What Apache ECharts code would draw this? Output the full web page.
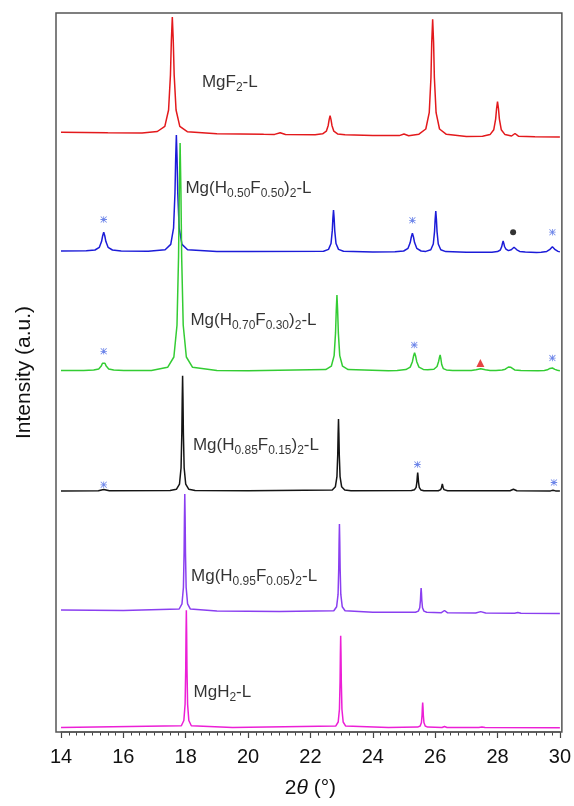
<!DOCTYPE html>
<html>
<head>
<meta charset="utf-8">
<script src="https://cdn.jsdelivr.net/npm/echarts@6/dist/echarts.min.js"></script>
<style>
  html, body { margin: 0; padding: 0; background: #fff; }
  #chart { width: 574px; height: 806px; }
</style>
</head>
<body>
<div id="chart"></div>
<script>
// 2θ axis
const xMin = 14;
const xMax = 30;
const xStep = 2;

// Sample names (rich-text markup for subscripts), top to bottom
const sampleLabels = [
  '{m|MgF}{s|2}{m|-L}',
  '{m|Mg(H}{s|0.50}{m|F}{s|0.50}{m|)}{s|2}{m|-L}',
  '{m|Mg(H}{s|0.70}{m|F}{s|0.30}{m|)}{s|2}{m|-L}',
  '{m|Mg(H}{s|0.85}{m|F}{s|0.15}{m|)}{s|2}{m|-L}',
  '{m|Mg(H}{s|0.95}{m|F}{s|0.05}{m|)}{s|2}{m|-L}',
  '{m|MgH}{s|2}{m|-L}'
];
const sampleNames = ['MgF2-L', 'Mg(H0.50F0.50)2-L', 'Mg(H0.70F0.30)2-L',
                     'Mg(H0.85F0.15)2-L', 'Mg(H0.95F0.05)2-L', 'MgH2-L'];

// Vertical stacking offset of each pattern (a.u.)
const offsets = [595, 479, 361, 241, 118, 4];

// Diffraction patterns: [2θ (°), intensity (a.u.)]
const patternMgF2 = [
  [14,4.8],[15.5,4.3],[16.6,4.0],[17.09,5.5],[17.33,10.7],[17.45,27.0],[17.51,61.9],[17.54,96.7],[17.57,120],
  [17.60,96.7],[17.63,61.9],[17.69,27.0],[17.81,10.6],[18.05,5.3],[19.0,3.2],[20.5,2.7],[20.85,2.6],[21.03,4.2],
  [21.2,2.5],[22.15,2.3],[22.39,3.2],[22.51,5.8],[22.57,11.6],[22.60,17.4],[22.63,21.2],[22.66,17.4],[22.69,11.6],
  [22.75,5.8],[22.87,3.1],[23.11,2.2],[24.0,1.6],[24.85,1.4],[25.0,3.0],[25.15,1.3],[25.48,2.8],[25.70,8.0],
  [25.81,24.3],[25.865,59.3],[25.89,94.3],[25.92,117.6],[25.95,94.3],[25.975,59.3],[26.03,24.3],[26.14,8.0],
  [26.36,2.7],[27.0,0.6],[27.52,0.8],[27.76,2.4],[27.88,7.3],[27.94,17.9],[27.97,28.5],[28.0,35.5],[28.03,28.5],
  [28.06,17.9],[28.12,7.3],[28.24,2.4],[28.45,1.0],[28.56,3.5],[28.67,0.8],[29.2,0.3],[30,0]
];
const patternH050 = [
  [14,2.0],[14.81,2.2],[15.09,3.0],[15.23,5.7],[15.30,11.4],[15.335,17.0],[15.37,20.8],[15.405,17.0],[15.44,11.4],
  [15.51,5.7],[15.65,3.0],[15.93,2.1],[16.8,1.8],[17.34,3.3],[17.52,8.6],[17.61,24.9],[17.655,59.8],[17.678,94.6],
  [17.70,117.9],[17.722,94.6],[17.745,59.8],[17.79,24.9],[17.88,8.6],[18.06,3.3],[19.0,1.6],[20.0,1.4],[22.42,1.7],
  [22.58,3.6],[22.66,9.5],[22.70,22.1],[22.72,34.6],[22.74,43.0],[22.76,34.6],[22.78,22.1],[22.82,9.5],[22.90,3.6],
  [23.06,1.7],[24.0,1.0],[24.71,1.2],[24.99,2.0],[25.13,4.7],[25.20,10.4],[25.235,16.0],[25.27,19.8],[25.305,16.0],
  [25.34,10.4],[25.41,4.7],[25.55,2.0],[25.70,1.6],[25.86,3.3],[25.94,9.0],[25.98,21.4],[26.00,33.7],[26.02,41.9],
  [26.04,33.7],[26.06,21.4],[26.10,9.0],[26.18,3.3],[26.34,1.4],[27.0,0.7],[27.82,0.8],[28.0,1.4],[28.09,3.0],
  [28.135,6.4],[28.16,9.9],[28.18,12.0],[28.20,9.9],[28.225,6.5],[28.27,3.9],[28.35,2.4],[28.44,3.3],[28.485,4.8],
  [28.53,5.8],[28.575,4.8],[28.62,3.2],[28.71,1.6],[28.89,0.9],[29.25,0.6],[29.40,0.8],[29.58,1.6],[29.67,3.3],
  [29.715,5.0],[29.76,6.2],[29.805,5.0],[29.85,3.3],[29.94,1.6],[30,1.1]
];
const patternH070 = [
  [14,0.5],[14.73,0.5],[15.05,0.9],[15.21,2.1],[15.29,4.9],[15.33,7.7],[15.37,9.5],[15.41,7.7],[15.45,4.9],
  [15.53,2.1],[15.69,0.9],[16.01,0.5],[16.9,0.5],[17.42,3.7],[17.62,14.0],[17.72,45.8],[17.77,114.2],[17.795,182.5],
  [17.82,228],[17.845,182.5],[17.87,114.2],[17.92,45.8],[18.02,14.0],[18.22,3.7],[19.0,0.6],[20.0,0.3],[22.49,1.4],
  [22.67,4.8],[22.76,15.4],[22.805,38.1],[22.828,60.8],[22.85,75.9],[22.872,60.8],[22.895,38.1],[22.94,15.4],
  [23.03,4.8],[23.21,1.4],[24.5,0.3],[24.78,0.6],[25.06,1.4],[25.20,3.9],[25.27,9.3],[25.305,14.7],[25.34,18.3],
  [25.375,14.7],[25.41,9.3],[25.48,3.9],[25.62,1.6],[25.76,1.2],[25.96,1.8],[26.06,4.5],[26.11,9.5],[26.135,13.2],
  [26.16,16.0],[26.185,12.0],[26.21,6.5],[26.26,2.4],[26.36,1.1],[26.56,0.5],[27.0,0.4],[27.16,0.6],[27.31,1.3],
  [27.46,2.3],[27.61,1.3],[27.76,0.6],[27.95,0.5],[28.15,1.0],[28.25,1.8],[28.31,2.7],[28.35,4.0],[28.39,5.0],
  [28.43,3.7],[28.47,2.4],[28.55,1.1],[28.75,0.5],[29.3,0.3],[29.5,0.6],[29.6,1.2],[29.68,2.6],[29.72,3.7],
  [29.76,3.0],[29.84,1.6],[29.92,0.8],[30,0.3]
];
const patternH085 = [
  [14,0],[15.2,0.2],[15.37,1.6],[15.55,0.2],[17.5,0.4],[17.70,1.7],[17.80,6.9],[17.85,23.0],[17.875,57.6],
  [17.888,92.2],[17.90,115.2],[17.912,92.2],[17.925,57.6],[17.95,23.0],[18.0,6.9],[18.10,1.7],[18.3,0.4],[20.0,0.2],
  [22.70,1.1],[22.80,4.3],[22.85,14.4],[22.875,36.0],[22.888,57.6],[22.90,72.0],[22.912,57.6],[22.925,36.0],
  [22.95,14.4],[23.0,4.3],[23.10,1.1],[23.3,0.3],[25.24,0.5],[25.34,1.3],[25.39,3.7],[25.415,9.2],[25.428,14.6],
  [25.44,18.3],[25.452,14.6],[25.465,9.2],[25.49,3.7],[25.54,1.1],[25.64,0.3],[26.10,0.3],[26.18,1.4],[26.205,3.5],
  [26.23,7.0],[26.255,3.5],[26.28,1.4],[26.4,0.3],[28.4,0.2],[28.51,1.7],[28.62,0.2],[29.7,0.1],[29.78,0.8],
  [29.86,0.1],[30,0]
];
const patternH095 = [
  [14,4.1],[16.0,3.6],[17.79,5.0],[17.88,10.2],[17.926,26.5],[17.948,61.6],[17.959,96.6],[17.97,119.9],[17.981,96.6],
  [17.992,61.6],[18.014,26.5],[18.06,10.2],[18.15,4.9],[19.0,3.0],[21.0,2.5],[22.75,3.3],[22.84,7.3],[22.886,19.6],
  [22.908,46.0],[22.919,72.3],[22.93,89.9],[22.941,72.3],[22.952,46.0],[22.974,19.6],[23.02,7.3],[23.11,3.3],
  [24.0,1.8],[25.37,1.8],[25.46,2.9],[25.506,6.3],[25.528,13.7],[25.539,21.0],[25.55,25.9],[25.561,21.0],
  [25.572,13.7],[25.594,6.3],[25.64,2.9],[25.73,1.8],[26.2,1.3],[26.3,3.5],[26.4,1.2],[27.3,1.0],[27.46,2.4],
  [27.62,1.0],[28.55,0.7],[28.65,1.5],[28.75,0.7],[30,0.4]
];
const patternMgH2 = [
  [14,0.5],[17.86,2.3],[17.94,7.5],[17.98,23.9],[18.00,59.1],[18.01,94.3],[18.02,117.7],[18.03,94.3],[18.04,59.1],
  [18.06,23.9],[18.10,7.5],[18.18,2.3],[19.5,0.5],[22.81,1.9],[22.89,6.0],[22.93,18.8],[22.95,46.4],[22.96,73.9],
  [22.97,92.2],[22.98,73.9],[22.99,46.4],[23.01,18.8],[23.05,6.0],[23.13,1.9],[24.5,0.5],[25.44,0.9],[25.52,2.0],
  [25.56,5.5],[25.58,13.0],[25.59,20.5],[25.60,25.5],[25.61,20.5],[25.62,13.0],[25.64,5.5],[25.68,2.0],[25.76,0.9],
  [26.22,0.5],[26.3,1.5],[26.38,0.5],[27.4,0.4],[27.5,1.0],[27.6,0.4],[30,0.3]
];
const patterns = [patternMgF2, patternH050, patternH070, patternH085, patternH095, patternMgH2];

// Phase markers, [2θ, stacked intensity]
const starMarks = [
  [15.37,512.5],[25.27,511.7],[29.76,499.8],
  [15.37,380.7],[25.33,387],[29.76,373.9],
  [15.37,247.2],[25.43,267.5],[29.81,249.5]
];
const dotMarks = [[28.50,499.8]];
const triangleMarks = [[27.45,369.1]];

// Where each sample name sits, [2θ, stacked intensity] of the text's top-left
const labelAnchors = [[18.52,658],[17.99,552],[18.15,420],[18.23,295],[18.17,164],[18.25,48]];

const colors = ['#e3191c', '#1c1cd8', '#33cc33', '#141414', '#8a3ff0', '#ec1fd6'];
const FONT = '"Liberation Sans", Arial, Helvetica, sans-serif';
const yTop = 719;

const chart = echarts.init(document.getElementById('chart'), null, { renderer: 'canvas' });

const lineSeries = patterns.map((pts, i) => ({
  type: 'line',
  name: sampleNames[i],
  data: pts.map(p => [p[0], p[1] + offsets[i]]),
  showSymbol: false,
  smooth: false,
  lineStyle: { color: colors[i], width: 1.5 },
  z: 3,
  animation: false,
  silent: true
}));

const starPath = 'path://M4.4,0H5.6V10H4.4Z M0,4.4H10V5.6H0Z M0,0.85L0.85,0L10,9.15L9.15,10Z M9.15,0L10,0.85L0.85,10L0,9.15Z';

const option = {
  animation: false,
  backgroundColor: '#ffffff',
  textStyle: { fontFamily: FONT },
  grid: { left: 61, right: 12, top: 13, bottom: 74, containLabel: false },
  xAxis: {
    type: 'value',
    min: xMin, max: xMax, interval: xStep,
    name: '2{i|θ} (°)',
    nameLocation: 'middle',
    nameGap: 46,
    nameTextStyle: {
      fontSize: 21, color: '#111', fontFamily: FONT,
      rich: { i: { fontSize: 21, fontStyle: 'italic', color: '#111', fontFamily: FONT } }
    },
    axisLine: { show: true, onZero: false, lineStyle: { color: '#555', width: 1.5 } },
    axisTick: { show: true, inside: false, length: 6, lineStyle: { color: '#444', width: 1.2 } },
    minorTick: { show: true, splitNumber: 8, length: 3.5, lineStyle: { color: '#444', width: 1 } },
    axisLabel: { fontSize: 20, color: '#111', margin: 15, fontFamily: FONT },
    splitLine: { show: false }
  },
  yAxis: {
    type: 'value',
    min: 0, max: yTop,
    name: 'Intensity (a.u.)',
    nameLocation: 'middle',
    nameRotate: 90,
    nameGap: 26,
    nameTextStyle: { fontSize: 21, color: '#111', fontFamily: FONT },
    axisLine: { show: false },
    axisTick: { show: false },
    axisLabel: { show: false },
    splitLine: { show: false }
  },
  series: lineSeries.concat([
    {
      type: 'scatter',
      name: 'labels',
      data: labelAnchors,
      symbolSize: 0,
      silent: true,
      z: 5,
      label: {
        show: true,
        position: [0, 0],
        align: 'left',
        verticalAlign: 'top',
        formatter: p => sampleLabels[p.dataIndex],
        rich: {
          m: { fontSize: 17, verticalAlign: 'top', color: '#000', fontFamily: FONT },
          s: { fontSize: 12, verticalAlign: 'top', padding: [8, 0, 0, 0], color: '#000', fontFamily: FONT }
        }
      }
    },
    {
      type: 'scatter',
      name: 'stars',
      data: starMarks,
      symbol: starPath,
      symbolSize: 6.5,
      itemStyle: { color: '#4a68e4' },
      silent: true,
      z: 4
    },
    {
      type: 'scatter',
      name: 'dot',
      data: dotMarks,
      symbol: 'circle',
      symbolSize: 6,
      itemStyle: { color: '#000' },
      silent: true,
      z: 4
    },
    {
      type: 'scatter',
      name: 'triangle',
      data: triangleMarks,
      symbol: 'triangle',
      symbolSize: 8,
      itemStyle: { color: '#e01515' },
      silent: true,
      z: 4
    }
  ])
};

chart.setOption(option);

// Plot frame drawn around the data area
const pTL = chart.convertToPixel({ gridIndex: 0 }, [xMin, yTop]);
const pBR = chart.convertToPixel({ gridIndex: 0 }, [xMax, 0]);
chart.setOption({
  graphic: [{
    type: 'rect',
    silent: true,
    z: 1,
    shape: { x: pTL[0] - 5, y: pTL[1], width: (pBR[0] - pTL[0]) + 7, height: pBR[1] - pTL[1] },
    style: { fill: 'none', stroke: '#555', lineWidth: 1.5 }
  }]
});
</script>
</body>
</html>
